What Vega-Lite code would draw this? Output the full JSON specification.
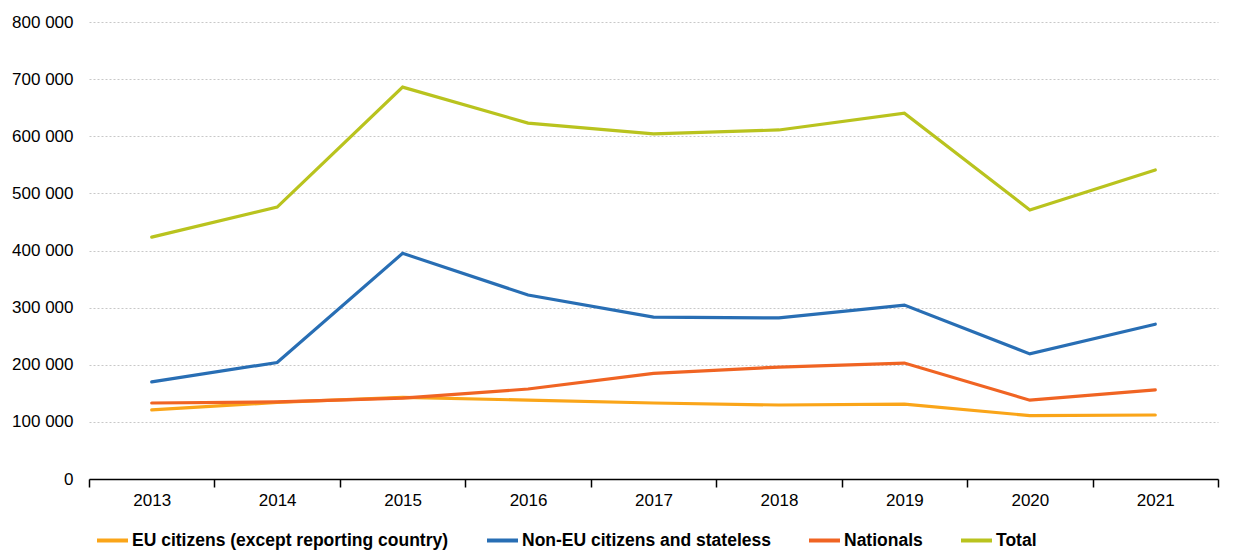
{
  "$schema": "https://vega.github.io/schema/vega-lite/v6.json",
  "width": 1129,
  "height": 457,
  "padding": {"left": 11, "top": 13, "right": 26, "bottom": 0},
  "background": "white",
  "config": {
    "view": {"stroke": null},
    "font": "Liberation Sans"
  },
  "data": {
    "values": [
      {"year": "2013", "series": "EU citizens (except reporting country)", "value": 121000},
      {"year": "2014", "series": "EU citizens (except reporting country)", "value": 134000},
      {"year": "2015", "series": "EU citizens (except reporting country)", "value": 143000},
      {"year": "2016", "series": "EU citizens (except reporting country)", "value": 138000},
      {"year": "2017", "series": "EU citizens (except reporting country)", "value": 133000},
      {"year": "2018", "series": "EU citizens (except reporting country)", "value": 129500},
      {"year": "2019", "series": "EU citizens (except reporting country)", "value": 131000},
      {"year": "2020", "series": "EU citizens (except reporting country)", "value": 111000},
      {"year": "2021", "series": "EU citizens (except reporting country)", "value": 112000},
      {"year": "2013", "series": "Non-EU citizens and stateless", "value": 170000},
      {"year": "2014", "series": "Non-EU citizens and stateless", "value": 204000},
      {"year": "2015", "series": "Non-EU citizens and stateless", "value": 395000},
      {"year": "2016", "series": "Non-EU citizens and stateless", "value": 322000},
      {"year": "2017", "series": "Non-EU citizens and stateless", "value": 283500},
      {"year": "2018", "series": "Non-EU citizens and stateless", "value": 282000},
      {"year": "2019", "series": "Non-EU citizens and stateless", "value": 304500},
      {"year": "2020", "series": "Non-EU citizens and stateless", "value": 219000},
      {"year": "2021", "series": "Non-EU citizens and stateless", "value": 271000},
      {"year": "2013", "series": "Nationals", "value": 133000},
      {"year": "2014", "series": "Nationals", "value": 135000},
      {"year": "2015", "series": "Nationals", "value": 141500},
      {"year": "2016", "series": "Nationals", "value": 157500},
      {"year": "2017", "series": "Nationals", "value": 185000},
      {"year": "2018", "series": "Nationals", "value": 196000},
      {"year": "2019", "series": "Nationals", "value": 203000},
      {"year": "2020", "series": "Nationals", "value": 138000},
      {"year": "2021", "series": "Nationals", "value": 156000},
      {"year": "2013", "series": "Total", "value": 423500},
      {"year": "2014", "series": "Total", "value": 476000},
      {"year": "2015", "series": "Total", "value": 686000},
      {"year": "2016", "series": "Total", "value": 623000},
      {"year": "2017", "series": "Total", "value": 604000},
      {"year": "2018", "series": "Total", "value": 611000},
      {"year": "2019", "series": "Total", "value": 640500},
      {"year": "2020", "series": "Total", "value": 471000},
      {"year": "2021", "series": "Total", "value": 541000}
    ]
  },
  "mark": {"type": "line", "strokeWidth": 3.2, "strokeCap": "round"},
  "encoding": {
    "x": {
      "field": "year",
      "type": "ordinal",
      "bandPosition": 0.5,
      "scale": {"type": "band", "paddingInner": 0, "paddingOuter": 0},
      "axis": {
        "title": null,
        "labelAngle": 0,
        "labelFontSize": 17,
        "labelColor": "#000000",
        "labelFont": "Liberation Sans",
        "tickBand": "extent",
        "tickSize": 8,
        "tickColor": "#000000",
        "tickWidth": 1.5,
        "domainColor": "#000000",
        "domainWidth": 1.5,
        "labelPadding": 5,
        "grid": false
      }
    },
    "y": {
      "field": "value",
      "type": "quantitative",
      "scale": {"domain": [0, 800000], "nice": false},
      "axis": {
        "title": null,
        "values": [0, 100000, 200000, 300000, 400000, 500000, 600000, 700000, 800000],
        "labelExpr": "replace(format(datum.value, ',d'), /,/g, ' ')",
        "labelFontSize": 17,
        "labelColor": "#000000",
        "labelFont": "Liberation Sans",
        "labelOverlap": false,
        "domain": false,
        "ticks": false,
        "labelPadding": 16,
        "grid": true,
        "gridColor": "#c8c8c8",
        "gridDash": [2, 2],
        "gridWidth": 1
      }
    },
    "color": {
      "field": "series",
      "type": "nominal",
      "scale": {
        "domain": ["EU citizens (except reporting country)", "Non-EU citizens and stateless", "Nationals", "Total"],
        "range": ["#FAA519", "#286EB4", "#F06423", "#B9C31E"]
      },
      "legend": {
        "title": null,
        "orient": "bottom",
        "direction": "horizontal",
        "symbolType": "stroke",
        "symbolStrokeWidth": 4,
        "symbolSize": 961,
        "labelFontSize": 17.5,
        "labelFontWeight": "bold",
        "labelFont": "Liberation Sans",
        "labelColor": "#000000",
        "labelLimit": 600,
        "columnPadding": 30,
        "labelOffset": 2,
        "padding": 6,
        "offset": 9
      }
    }
  }
}
